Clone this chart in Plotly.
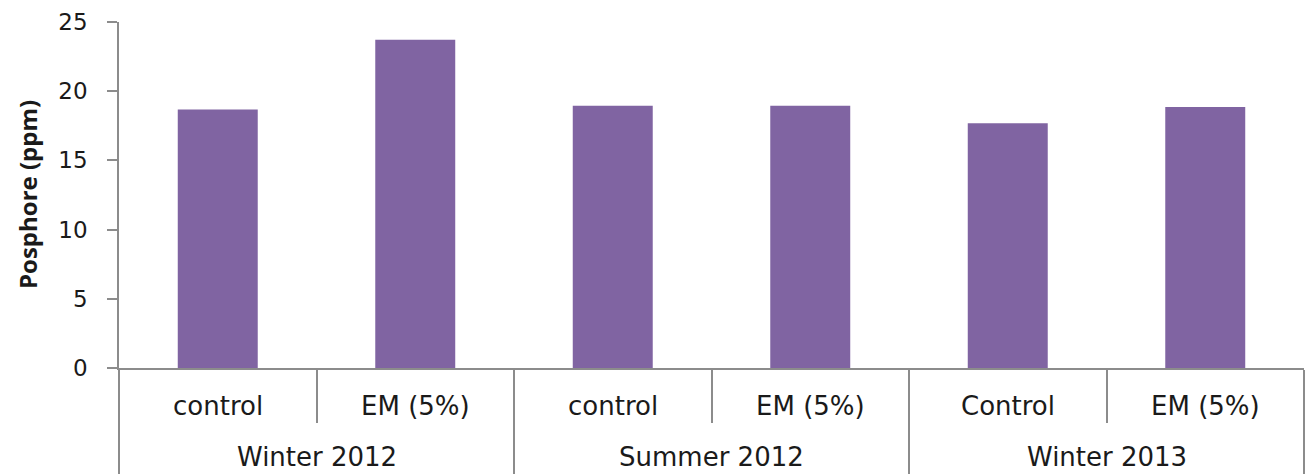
import plotly.graph_objects as go
import numpy as np

groups = ["Winter 2012", "Summer 2012", "Winter 2013"]
sub_labels = ["control", "EM (5%)", "control", "EM (5%)", "Control", "EM (5%)"]
values = [18.68, 23.72, 18.94, 18.94, 17.69, 18.85]
y_title = "Posphore (ppm)"

n = len(values)
xpos = np.arange(n)
per_group = n // len(groups)

AXIS = "#8c8c8c"
TXT = "#1a1a1a"
BAR = "#8064A2"

fig = go.Figure(go.Bar(x=xpos, y=values, marker=dict(color=BAR, line=dict(width=0)), width=0.405))

group_bounds = [g * per_group - 0.5 for g in range(len(groups) + 1)]
sub_bounds = [g * per_group + 0.5 for g in range(len(groups))]

fig.update_layout(
    width=1305, height=474,
    margin=dict(l=119, r=1, t=22, b=106),
    plot_bgcolor="white", paper_bgcolor="white",
    showlegend=False,
    xaxis=dict(range=[-0.5, n - 0.5], showgrid=False, zeroline=False, showline=True,
               linecolor=AXIS, linewidth=1.5, showticklabels=False,
               tickmode="array", tickvals=group_bounds, ticks="outside", ticklen=106,
               tickcolor=AXIS, tickwidth=1.5,
               minor=dict(tickmode="array", tickvals=sub_bounds, ticks="outside", ticklen=53,
                          tickcolor=AXIS, tickwidth=1.5)),
    yaxis=dict(range=[0, 25], dtick=5, showgrid=False, zeroline=False, showline=True,
               linecolor=AXIS, linewidth=1.5, ticks="outside", ticklen=10,
               tickcolor=AXIS, tickwidth=1.5, ticklabelstandoff=15,
               tickfont=dict(family="DejaVu Sans", size=23, color=TXT)),
)

for i, lab in enumerate(sub_labels):
    fig.add_annotation(x=i, y=0, xref="x", yref="paper", text=lab, showarrow=False,
                       yanchor="middle", yshift=-38,
                       font=dict(family="DejaVu Sans", size=26, color=TXT))
for g, lab in enumerate(groups):
    fig.add_annotation(x=g * per_group + (per_group - 1) / 2, y=0, xref="x", yref="paper",
                       text=lab, showarrow=False, yanchor="middle", yshift=-89,
                       font=dict(family="DejaVu Sans", size=26, color=TXT))

fig.add_annotation(x=0, y=0.5, xref="paper", yref="paper", text="<b>" + y_title + "</b>",
                   showarrow=False, textangle=-90, xanchor="center", yanchor="middle",
                   xshift=-92, font=dict(family="Open Sans", size=24, color=TXT))

fig.write_html("out.html")
